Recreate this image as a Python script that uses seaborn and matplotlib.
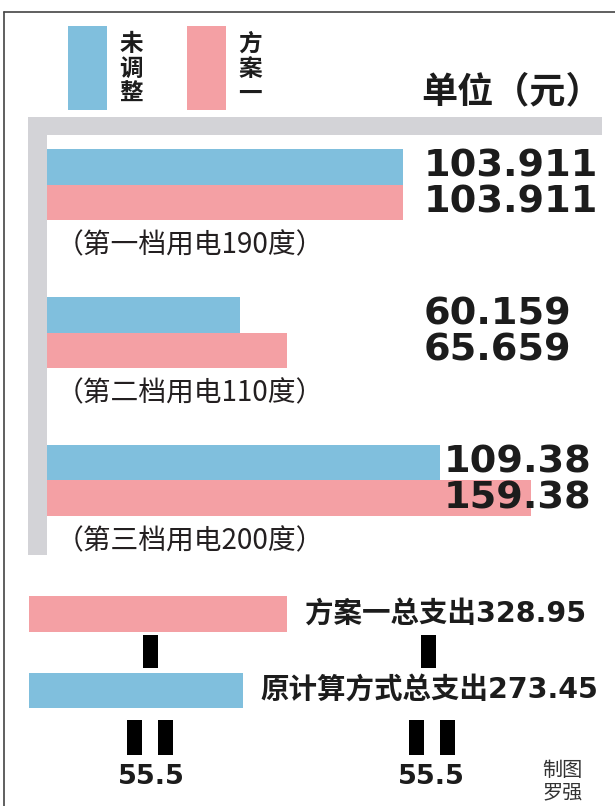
import matplotlib
matplotlib.use("Agg")
import matplotlib.pyplot as plt
import seaborn as sns
import pandas as pd
from matplotlib.patches import Rectangle
from matplotlib.lines import Line2D

# ---------------- data ----------------
series_names = ["未调整", "方案一"]
tier_labels = ["（第一档用电190度）", "（第二档用电110度）", "（第三档用电200度）"]
# printed values
values_unadjusted = [103.911, 60.159, 109.38]
values_plan1 = [103.911, 65.659, 159.38]
# bar lengths as drawn in the graphic (graphic is not to scale)
bar_unadjusted = [103.911, 56.3, 114.7]
bar_plan1 = [103.911, 70.1, 141.3]
total_names = ["方案一总支出", "原计算方式总支出"]
total_values = [328.95, 273.45]
difference = 55.5
unit_label = "单位（元）"
credit = "制图\n罗强"

BLUE = "#80BFDD"
PINK = "#F4A0A4"
GRAY = "#D3D3D7"
INK = "#1c1c1c"

sns.set_style("white")
plt.rcParams["font.family"] = ["Noto Sans CJK SC", "DejaVu Sans"]

W, H = 615, 806
fig = plt.figure(figsize=(W / 100, H / 100), dpi=100)
fig.patch.set_facecolor("white")


def fx(px):
    return px / W


def fy(py):
    return 1 - py / H


def frect(x0, y0, x1, y1, color):
    fig.patches.append(Rectangle((fx(x0), fy(y1)), (x1 - x0) / W, (y1 - y0) / H,
                                 transform=fig.transFigure, color=color, lw=0))


# frame lines
fig.lines.append(Line2D([fx(4), fx(4)], [fy(12), 0], transform=fig.transFigure, color="#444444", lw=1.2))
fig.lines.append(Line2D([fx(4), 1], [fy(12), fy(12)], transform=fig.transFigure, color="#444444", lw=1.2))

# legend
for (x0, col, name) in [(68, BLUE, series_names[0]), (187, PINK, series_names[1])]:
    frect(x0, 26, x0 + 39, 110, col)
    fig.text(fx(x0 + 63), fy(69), "\n".join(name), ha="center", va="center",
             fontsize=17, fontweight="heavy", color=INK, linespacing=1.05)

fig.text(fx(602), fy(92), unit_label, ha="right", va="center", fontsize=26,
         fontweight="heavy", color=INK)

# gray L frame
frect(28, 117, 602, 135, GRAY)
frect(28, 117, 47, 555, GRAY)

# ---------------- main bars ----------------
PX_PER_UNIT = 3.426
ax = fig.add_axes([fx(47), fy(560), 568 / W, 425 / H])
df = pd.DataFrame({
    "tier": tier_labels * 2,
    "series": [series_names[0]] * 3 + [series_names[1]] * 3,
    "value": bar_unadjusted + bar_plan1,
})
sns.barplot(data=df, y="tier", x="value", hue="series", hue_order=series_names,
            palette=[BLUE, PINK], orient="h", width=0.48, saturation=1,
            errorbar=None, legend=False, linewidth=0, ax=ax)
ax.set_xlim(0, 568 / PX_PER_UNIT)
ax.set_ylim(2.5372, -0.3345)
ax.axis("off")

label_min_x = (424 - 47) / PX_PER_UNIT
for i in range(3):
    x = max(bar_unadjusted[i] + 1.2, label_min_x)
    ax.text(x, i - 0.12, str(values_unadjusted[i]), ha="left", va="center",
            fontfamily="DejaVu Sans", fontweight="bold", fontsize=27.5, color=INK)
    ax.text(x, i + 0.12, str(values_plan1[i]), ha="left", va="center",
            fontfamily="DejaVu Sans", fontweight="bold", fontsize=27.5, color=INK)
    ax.text(9 / PX_PER_UNIT, i + 0.409, tier_labels[i], ha="left", va="center",
            fontsize=20, color="#231f20")

# ---------------- totals ----------------
PX_PER_UNIT_T = 0.7843
ax2 = fig.add_axes([fx(29), fy(720), 586 / W, 130 / H])
df_t = pd.DataFrame({"name": total_names, "value": total_values})
sns.barplot(data=df_t, y="name", x="value", hue="name", hue_order=total_names,
            palette=[PINK, BLUE], orient="h", width=0.47, saturation=1,
            errorbar=None, legend=False, linewidth=0, ax=ax2)
ax2.set_xlim(0, 586 / PX_PER_UNIT_T)
ax2.set_ylim(1.3856, -0.3137)
ax2.axis("off")

mixed = ["DejaVu Sans", "Noto Sans CJK SC"]
fig.text(fx(305), fy(614), f"{total_names[0]}{total_values[0]:.2f}", ha="left", va="center",
         family=mixed, fontweight="heavy", fontsize=20.5, color=INK)
fig.text(fx(260), fy(690), f"{total_names[1]}{total_values[1]:.2f}", ha="left", va="center",
         family=mixed, fontweight="heavy", fontsize=20.5, color=INK)

# minus / equals marks
frect(143, 635, 158, 668, "black")
frect(421, 635, 436, 668, "black")
for x0 in (127, 158, 409, 440):
    frect(x0, 720, x0 + 15, 755, "black")

for cx in (151, 431):
    fig.text(fx(cx), fy(777), f"{difference}", ha="center", va="center",
             family="DejaVu Sans", fontweight="bold", fontsize=19.5, color=INK)

fig.text(fx(542), fy(760), credit, ha="left", va="top", fontsize=14.5,
         color="#333333", linespacing=1.1)

fig.savefig("out.png", dpi=100)
